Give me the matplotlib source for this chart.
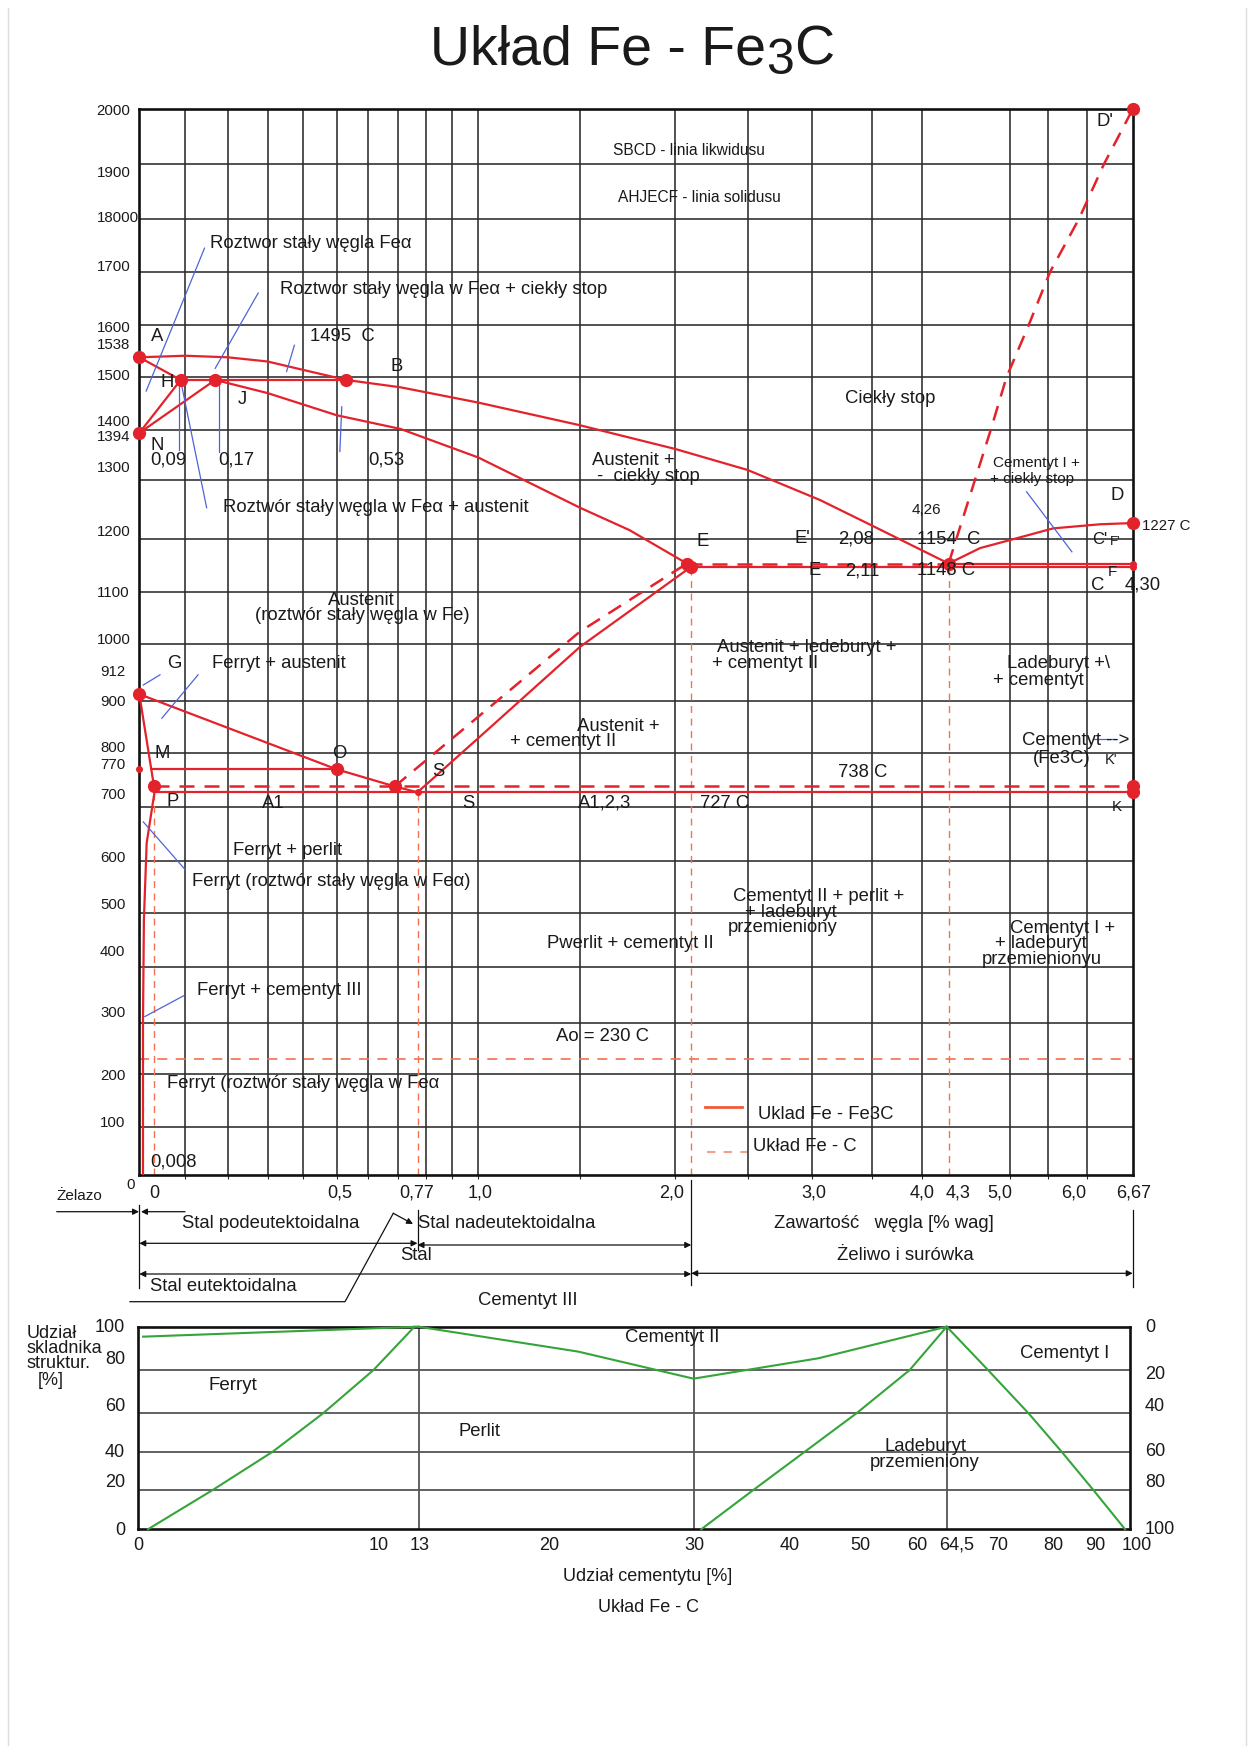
import numpy as np
import matplotlib
matplotlib.use('Agg')
import matplotlib.pyplot as plt
import matplotlib.transforms as mtransforms
from matplotlib.lines import Line2D
from matplotlib.patches import FancyArrowPatch

plt.rcParams['font.family'] = ['Liberation Sans', 'DejaVu Sans']

W, H = 1253, 1751
RED = '#e3222b'
RED_LIGHT = '#f2714f'
BLUE = '#4f63d8'
GREEN = '#35a43a'
GRID = '#2b2b2b'
TXT = '#1a1a1a'
FS = 13.3

# ---------------- data: Fe - Fe3C diagram (wt% C, deg C) ----------------
liq_AB_c = [0, 0.1, 0.2, 0.3, 0.4, 0.53]
liq_AB_t = [1538, 1541, 1538, 1530, 1514, 1495]
liq_BC_c = [0.53, 0.71, 1.0, 1.5, 2.0, 2.5, 3.07, 3.48, 4.3]
liq_BC_t = [1495, 1481, 1452, 1409, 1362, 1320, 1266, 1225, 1154]
liq_CD_c = [4.3, 4.66, 5.0, 5.57, 6.2, 6.67]
liq_CD_t = [1154, 1183, 1198, 1218, 1225, 1227]
sol_AH_c = [0, 0.09]
sol_AH_t = [1538, 1495]
per_HB_c = [0.09, 0.53]
per_HB_t = [1495, 1495]
NH_c = [0, 0.09]
NH_t = [1394, 1495]
NJ_c = [0, 0.17]
NJ_t = [1394, 1495]
sol_JE_c = [0.17, 0.3, 0.5, 0.71, 1.0, 1.5, 1.76, 2.08]
sol_JE_t = [1495, 1470, 1428, 1402, 1345, 1253, 1215, 1154]
ecf_c = [2.11, 6.67]
ecf_t = [1148, 1148]
cf2_c = [4.3, 6.67]
cf2_t = [1154, 1154]
ec2_c = [2.08, 4.3]          # Fe-C (dashed)
ec2_t = [1154, 1154]
GOS_c = [0, 0.5, 0.69, 0.77]
GOS_t = [912, 770, 738, 727]
MO_c = [0.025, 0.5]
MO_t = [770, 770]
GP_c = [0, 0.032, 0.033]
GP_t = [912, 738, 727]
PQ_c = [0.033, 0.016, 0.010, 0.008, 0.008]
PQ_t = [727, 633, 487, 300, 0]
PSK_c = [0.033, 6.67]
PSK_t = [727, 727]
PSK2_c = [0.032, 6.67]       # Fe-C (dashed)
PSK2_t = [738, 738]
SE_c = [0.77, 1.0, 1.5, 2.11]
SE_t = [727, 829, 995, 1148]
SE2_c = [0.69, 1.0, 1.5, 2.08]   # Fe-C (dashed)
SE2_t = [738, 870, 1024, 1154]
CD2_c = [4.3, 4.6, 4.78, 4.96, 5.25, 5.53, 5.9, 6.25, 6.67]   # Fe-C (dashed)
CD2_t = [1154, 1300, 1400, 1500, 1600, 1700, 1800, 1900, 2000]
vdash_c = [0.032, 0.77, 2.11, 4.3]
vdash_t = [738, 727, 1148, 1154]
ao_t = 230
pts_c = [0, 0.09, 0.17, 0.53, 0, 0, 0.5, 0.69, 0.032, 2.08, 2.11, 4.3, 6.67, 6.67, 6.67, 6.67]
pts_t = [1538, 1495, 1495, 1495, 1394, 912, 770, 738, 738, 1154, 1148, 1154, 1227, 2000, 738, 727]
small_c = [6.67, 6.67, 0, 0.77]
small_t = [1148, 1154, 770, 727]

# blue leader lines (wt% C, deg C)
leaders = [
    ([0.145, 0.015], [1745, 1474]),
    ([0.276, 0.17], [1660, 1517]),
    ([0.375, 0.353], [1561, 1511]),
    ([0.516, 0.51], [1444, 1357]),
    ([0.087, 0.087], [1489, 1360]),
    ([0.178, 0.178], [1489, 1357]),
    ([0.092, 0.15], [1485, 1253]),
    ([0.0087, 0.045], [928, 946]),
    ([0.049, 0.13], [867, 946]),
    ([0.0087, 0.1], [672, 583]),
    ([0.012, 0.096], [312, 349]),
    ([5.22, 5.81], [1280, 1176]),
    ([6.09, 6.42], [827, 827]),
]

# ---------------- data: share of structural constituents ----------------
fer_top_x = [0.2, 13]
fer_top_y = [95.4, 100]
fer_per_x = [0.4, 3.1, 5.6, 7.7, 9.8, 12.7]
fer_per_y = [0, 20, 40, 60, 80, 100]
cem2_x = [13, 22, 30, 44, 64.5]
cem2_y = [100, 88.5, 76, 85.4, 100]
led_x = [30.8, 36.2, 42.1, 49.4, 58.6, 64.5]
led_y = [0, 20, 40, 60, 80, 100]
cem1_x = [64.5, 68.9, 75.5, 82.0, 89.6, 98.6]
cem1_y = [100, 80, 60, 40, 20, 0]
cem_marks = [13, 30, 64.5]
share_grid = [20, 40, 60, 80]

# ---------------- axis geometry (drawing is not to scale) ----------------
XG = [-10, 0, .1, .2, .3, .4, .5, .6, .7, .8, .9, 1.0, 1.5, 2.0, 2.5, 3.0, 3.5, 4.0, 5.0, 5.5, 6.0, 6.67, 20]
XP = [139.3 - 4600, 139.3, 185.3, 228, 267.7, 303.3, 336.7, 368.3, 397.7, 426, 452.3, 478.3, 580, 675.3,
      747.7, 811.7, 871.7, 922.3, 1010, 1047.7, 1086.7, 1132.7, 1132.7 + 13.33 * 68.7]
YG = [-1000] + list(range(0, 2001, 100)) + [5000]
YP = [1175.3 + 535, 1175.3, 1126.7, 1073.7, 1023.3, 967.3, 912.7, 861, 806.7, 753.3, 701, 644, 592.3, 539,
      480, 430, 377.3, 324.7, 272, 219, 164.3, 109.3, 109.3 - 3 * 535]
LXG = [-100, 0, 10, 13, 20, 30, 40, 50, 60, 64.5, 70, 80, 90, 100, 200]
LXP = [138.3 - 2400, 138.3, 378.3, 418.5, 549.3, 693.5, 790, 860.7, 917.7, 946.7, 998.3, 1053.3, 1095, 1130, 1130 + 400]
LYG = [-100, 0, 20, 40, 60, 80, 100, 200]
LYP = [1529.3 + 200, 1529.3, 1490, 1451.7, 1413.3, 1370, 1326.7, 1326.7 - 210]

XG, XP, YG, YP = map(np.asarray, (XG, XP, YG, YP))
LXG, LXP, LYG, LYP = map(np.asarray, (LXG, LXP, LYG, LYP))


def fscale(g, p, flip=False):
    s = -1.0 if flip else 1.0
    fwd = lambda v: s * np.interp(np.asarray(v, float), g, p)
    if flip:
        inv = lambda q: np.interp(np.asarray(q, float), -p, g)
    else:
        inv = lambda q: np.interp(np.asarray(q, float), p, g)
    return fwd, inv


fig = plt.figure(figsize=(W / 100, H / 100), dpi=100)
fig.patch.set_facecolor('white')
PIX = mtransforms.Affine2D().scale(1 / W, -1 / H).translate(0, 1) + fig.transFigure


def T(x, y, s, size=FS, ha='left', va='center', **kw):
    return fig.text(x, y, s, transform=PIX, fontsize=size, ha=ha, va=va, color=TXT, **kw)


# thin frame around page
fig.add_artist(Line2D([8, 8], [8, 1745], transform=PIX, color='#dddddd', lw=1))
fig.add_artist(Line2D([1246, 1246], [8, 1745], transform=PIX, color='#dddddd', lw=1))

# ---------------- main axes ----------------
ax = fig.add_axes([139.3 / W, 1 - 1175.3 / H, (1132.7 - 139.3) / W, (1175.3 - 109.3) / H])
ax.set_xscale('function', functions=fscale(XG, XP))
ax.set_yscale('function', functions=fscale(YG, YP, flip=True))
ax.set_xlim(0, 6.67)
ax.set_ylim(0, 2000)
ax.set_xticks([0.1, .2, .3, .4, .5, .6, .7, .8, .9, 1.0, 1.5, 2.0, 2.5, 3.0, 3.5, 4.0, 5.0, 5.5, 6.0])
ax.set_yticks(list(range(100, 2000, 100)))
ax.grid(True, color=GRID, lw=1.15)
ax.tick_params(labelbottom=False, labelleft=False, length=3, direction='out', color=GRID)
ax.tick_params(axis='y', length=0)
for sp in ax.spines.values():
    sp.set_linewidth(1.9)
    sp.set_color('#111111')
ax.set_axisbelow(True)

solid = dict(color=RED, lw=1.6, zorder=3, solid_capstyle='round', solid_joinstyle='round')
dashed = dict(color=RED, lw=1.8, zorder=3, dashes=(6, 4))
for c, t in [(liq_AB_c, liq_AB_t), (liq_BC_c, liq_BC_t), (liq_CD_c, liq_CD_t), (sol_AH_c, sol_AH_t),
             (per_HB_c, per_HB_t), (NH_c, NH_t), (NJ_c, NJ_t), (sol_JE_c, sol_JE_t), (ecf_c, ecf_t),
             (cf2_c, cf2_t), (GOS_c, GOS_t), (MO_c, MO_t), (GP_c, GP_t), (PQ_c, PQ_t), (PSK_c, PSK_t),
             (SE_c, SE_t)]:
    ax.plot(c, t, **solid)
for c, t in [(ec2_c, ec2_t), (PSK2_c, PSK2_t), (SE2_c, SE2_t), (CD2_c, CD2_t)]:
    ax.plot(c, t, **dashed)
for c, t in zip(vdash_c, vdash_t):
    ax.plot([c, c], [0, t], color=RED_LIGHT, lw=1.0, dashes=(5, 4), zorder=2.5)
ax.plot([0, 6.67], [ao_t, ao_t], color=RED_LIGHT, lw=1.2, dashes=(6, 5), zorder=2.5)
ax.plot(pts_c, pts_t, 'o', color=RED, ms=8.5, zorder=4, clip_on=False)
ax.plot(small_c, small_t, 'o', color=RED, ms=4, zorder=4, clip_on=False)
for c, t in leaders:
    ax.plot(c, t, color=BLUE, lw=0.9, zorder=3.5)

# legend glyphs
fig.add_artist(Line2D([705, 742], [1107, 1107], transform=PIX, color='#f0593a', lw=2))
fig.add_artist(Line2D([707, 747], [1152, 1152], transform=PIX, color='#f3a08c', lw=1.5, dashes=(4, 4)))

# ---------------- title ----------------
r = fig.canvas.get_renderer()
x = 430
for s, fs, dy in [("Układ Fe - Fe", 40, 0), ("3", 36, 9), ("C", 40, 0)]:
    t = fig.text(x, 64.8 + dy, s, transform=PIX, fontsize=fs, va='baseline', ha='left', color=TXT)
    x += t.get_window_extent(renderer=r).width

# ---------------- main tick labels ----------------
ylab_txt = ['2000', '1900', '18000', '1700', '1600', '1538', '1500', '1400', '1394', '1300', '1200', '1100',
            '1000', '912', '900', '800', '770', '700', '600', '500', '400', '300', '200', '100']
ylab_py = [110.7, 173.3, 218, 266.7, 328.3, 345, 376, 421.7, 437, 468.3, 531.7, 593.3, 640, 671.7, 701.7,
           748.3, 765, 795, 858.3, 905, 951.7, 1013.3, 1076, 1122.7]
for s, py in zip(ylab_txt, ylab_py):
    T(96.7 if len(s) >= 4 else 100, py, s, size=10.8)
T(130.7, 1185, '0', size=10.8, ha='center')

xlab_txt = ['0', '0,5', '0,77', '1,0', '2,0', '3,0', '4,0', '4,3', '5,0', '6,0', '6,67']
xlab_px = [154, 339.3, 416.7, 480, 671.7, 814, 921.7, 958.3, 1000, 1073.3, 1133.3]
for s, px in zip(xlab_txt, xlab_px):
    T(px, 1193, s, size=13, ha='center')

# ---------------- region / point labels ----------------
labels = [
    ("SBCD - linia likwidusu", 613.3, 150.7, 11.2),
    ("AHJECF - linia solidusu", 618.3, 197.3, 11.2),
    ("Roztwor stały węgla Feα", 210, 243.3, FS),
    ("Roztwor stały węgla w Feα + ciekły stop", 280, 290, FS),
    ("A", 151, 336.7, FS),
    ("1495  C", 310, 336.7, FS),
    ("B", 390, 366.7, FS),
    ("H", 160, 382.7, FS),
    ("J", 238, 399.3, FS),
    ("N", 151, 445, FS),
    ("0,09", 150, 460, FS),
    ("0,17", 218.3, 460, FS),
    ("0,53", 368.3, 460, FS),
    ("Roztwór stały węgla w Feα + austenit", 223.3, 507.5, FS),
    ("Austenit +", 591.7, 460, FS),
    ("-  ciekły stop", 596.7, 476.7, FS),
    ("Ciekły stop", 845, 398.3, FS),
    ("Cementyt I +", 993.3, 463.3, 11),
    ("+ ciekły stop", 990, 479.3, 11),
    ("D", 1110, 495, FS),
    ("D'", 1097, 121.7, FS),
    ("4,26", 911.7, 510, 11),
    ("E", 696, 541.7, FS),
    ("E'", 795, 538.3, FS),
    ("2,08", 838.3, 539.3, FS),
    ("1154  C", 916.7, 539.3, FS),
    ("C'", 1091.7, 539.3, 12),
    ("F'", 1110, 542, 9.5),
    ("E", 808, 570, FS),
    ("2,11", 845, 570.7, FS),
    ("1148 C", 917, 570.7, FS),
    ("F", 1108, 571.7, 11),
    ("C", 1091, 585, FS),
    ("4,30", 1125, 585, FS),
    ("1227 C", 1141.7, 526, 10.8),
    ("G", 167, 663.3, FS),
    ("Ferryt + austenit", 211.7, 663.3, FS),
    ("Austenit + ledeburyt +", 717, 647.7, FS),
    ("+ cementyt II", 712, 663.4, FS),
    ("Ladeburyt +\\", 1006.7, 663.3, FS),
    ("+ cementyt", 993.3, 680, FS),
    ("Austenit +", 576.7, 726, FS),
    ("+ cementyt II", 510, 741.7, FS),
    ("Cementyt -->", 1021.7, 740, FS),
    ("(Fe3C)", 1033.3, 758.3, FS),
    ("K'", 1105, 760, 10.5),
    ("M", 155, 753.3, FS),
    ("O", 332.5, 753.3, FS),
    ("S", 432, 771.7, FS),
    ("738 C", 838.3, 772.7, FS),
    ("P", 166.5, 801.7, FS),
    ("A1", 261.7, 803.3, FS),
    ("S", 462, 803.3, FS),
    ("A1,2,3", 578.3, 803.3, FS),
    ("727 C", 700, 803.3, FS),
    ("K", 1112, 806.7, 11),
    ("Ferryt + perlit", 233.3, 850, FS),
    ("Ferryt (roztwór stały węgla w Feα)", 191.7, 881, FS),
    ("Cementyt II + perlit +", 732.6, 896.8, FS),
    ("+ ladeburyt", 745, 912, FS),
    ("przemieniony", 728, 927.5, FS),
    ("Pwerlit + cementyt II", 546.7, 943.3, FS),
    ("Cementyt I +", 1010, 928.3, FS),
    ("+ ladeburyt", 995, 943.3, FS),
    ("przemienionyu", 981.7, 959.3, FS),
    ("Ferryt + cementyt III", 196.7, 990, FS),
    ("Ao = 230 C", 556, 1036.7, FS),
    ("Ferryt (roztwór stały węgla w Feα", 166.7, 1083.3, FS),
    ("Uklad Fe - Fe3C", 758.3, 1114, FS),
    ("Układ Fe - C", 753.3, 1146, FS),
    ("0,008", 150, 1161.7, FS),
    # below the diagram
    ("Żelazo", 56.7, 1196, 11),
    ("Stal podeutektoidalna", 181.7, 1223.3, FS),
    ("Stal nadeutektoidalna", 418.3, 1223.3, FS),
    ("Stal", 400, 1255, FS),
    ("Stal eutektoidalna", 150, 1286.7, FS),
    ("Cementyt III", 478.3, 1300, FS),
    ("Zawartość   węgla [% wag]", 774, 1223.3, FS),
    ("Żeliwo i surówka", 836.7, 1255, FS),
    # lower chart
    ("Udział", 26.7, 1333.3, 13),
    ("skladnika", 26.7, 1348.3, 13),
    ("struktur.", 26.7, 1363.3, 13),
    ("[%]", 38, 1380, 13),
    ("Ferryt", 208, 1385, 13.5),
    ("Perlit", 458, 1431, 13.3),
    ("Cementyt II", 625, 1337.3, 13.3),
    ("Cementyt I", 1020, 1353.3, 13.3),
    ("Ladeburyt", 885, 1446.7, 13.3),
    ("przemieniony", 870, 1462.7, 13.3),
]
for s, x0, y0, fs in labels:
    T(x0, y0, s, size=fs)
T(361, 600.8, "Austenit", ha='center')
T(362, 615.3, "(roztwór stały węgla w Fe)", ha='center')
T(647.5, 1576.7, "Udział cementytu [%]", size=13, ha='center')
T(648.3, 1607.3, "Układ Fe - C", size=13, ha='center')

# ---------------- schematic below the diagram ----------------
BT = mtransforms.blended_transform_factory(ax.transData, PIX)


def arr(p0, p1, trans, style='<|-|>'):
    fig.add_artist(FancyArrowPatch(p0, p1, transform=trans, arrowstyle=style, mutation_scale=9,
                                   color='#111111', lw=0.9, shrinkA=0, shrinkB=0))


for c, y0, y1 in [(0, 1205, 1288), (0.77, 1210, 1250), (2.11, 1180, 1285), (6.67, 1210, 1287)]:
    fig.add_artist(Line2D([c, c], [y0, y1], transform=BT, color='#111111', lw=0.9))
arr((0, 1243.3), (0.77, 1243.3), BT)
arr((0.77, 1245), (2.11, 1245), BT)
arr((0, 1274), (2.11, 1274), BT)
arr((2.11, 1273.3), (6.67, 1273.3), BT)
arr((56.7, 1211.7), (139, 1211.7), PIX, '-|>')
arr((185, 1211.7), (141, 1211.7), PIX, '-|>')
fig.add_artist(Line2D([130, 345, 393.3], [1301.7, 1301.7, 1213.3], transform=PIX, color='#111111', lw=0.9))
arr((393.3, 1213.3), (413, 1224), PIX, '-|>')

# ---------------- lower chart ----------------
ax2 = fig.add_axes([138.3 / W, 1 - 1529.3 / H, (1130 - 138.3) / W, (1529.3 - 1326.7) / H])
ax2.set_xscale('function', functions=fscale(LXG, LXP))
ax2.set_yscale('function', functions=fscale(LYG, LYP, flip=True))
ax2.set_xlim(0, 100)
ax2.set_ylim(0, 100)
ax2.set_xticks([])
ax2.set_yticks([])
for sp in ax2.spines.values():
    sp.set_linewidth(1.9)
    sp.set_color('#111111')
for v in share_grid:
    ax2.axhline(v, color='#555555', lw=1.3, zorder=1)
for v in cem_marks:
    ax2.axvline(v, color='#555555', lw=1.3, zorder=1)
for xx, yy in [(fer_top_x, fer_top_y), (fer_per_x, fer_per_y), (cem2_x, cem2_y), (led_x, led_y),
               (cem1_x, cem1_y)]:
    ax2.plot(xx, yy, color=GREEN, lw=1.5, zorder=3, clip_on=False)

lyl_txt = ['100', '80', '60', '40', '20', '0']
lyl_py = [1327.3, 1359.3, 1406, 1452.7, 1482.7, 1530]
for s, py in zip(lyl_txt, lyl_py):
    T(125, py, s, size=13, ha='right')
ryl_txt = ['0', '20', '40', '60', '80', '100']
ryl_py = [1327.3, 1374, 1406, 1451.7, 1482.7, 1529.3]
for s, py in zip(ryl_txt, ryl_py):
    T(1145, py, s, size=13)
lxl_txt = ['0', '10', '13', '20', '30', '40', '50', '60', '64,5', '70', '80', '90', '100']
lxl_px = [138.3, 378.3, 419.3, 549.3, 694, 790, 860.7, 917.7, 956.7, 998.3, 1053.3, 1095, 1136.7]
for s, px in zip(lxl_txt, lxl_px):
    T(px, 1545, s, size=13, ha='center')

fig.savefig('out.png', dpi=100, facecolor='white')
